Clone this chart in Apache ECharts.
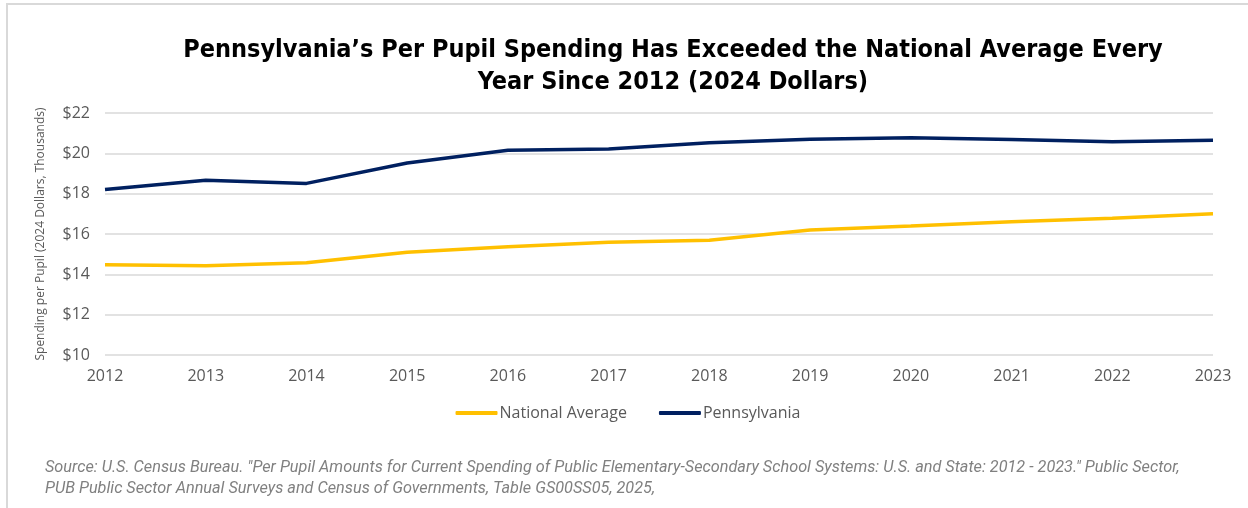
<!DOCTYPE html>
<html>
<head>
<meta charset="utf-8">
<script src="https://cdn.jsdelivr.net/npm/echarts@6/dist/echarts.min.js"></script>
<style>
  html, body { margin: 0; padding: 0; background: #fff; }
  #chart { box-sizing: border-box; border-top: 2px solid #d9d9d9; border-left: 2px solid #d9d9d9; margin-left: 6px; margin-top: 3px; width: 1242px; height: 505px; }
</style>
</head>
<body>
<div id="chart"></div>
<script>
// Per pupil current spending, thousands of 2024 dollars
const years = ['2012','2013','2014','2015','2016','2017','2018','2019','2020','2021','2022','2023'];
const nationalAverage = [14.48, 14.43, 14.58, 15.09, 15.37, 15.59, 15.69, 16.20, 16.40, 16.61, 16.78, 17.01];
const pennsylvania   = [18.21, 18.67, 18.51, 19.52, 20.15, 20.22, 20.52, 20.70, 20.77, 20.68, 20.57, 20.65];
const seriesNames = ['National Average', 'Pennsylvania'];
const seriesColors = ['#FFC000', '#002060'];

const titleText = 'Pennsylvania\u2019s Per Pupil Spending Has Exceeded the National Average Every\nYear Since 2012 (2024 Dollars)';
const sourceText = 'Source: U.S. Census Bureau. "Per Pupil Amounts for Current Spending of Public Elementary-Secondary School Systems: U.S. and State: 2012 - 2023." Public Sector,\nPUB Public Sector Annual Surveys and Census of Governments, Table GS00SS05, 2025,';

const chart = echarts.init(document.getElementById('chart'), null, { renderer: 'canvas' });
chart.setOption({
  animation: false,
  backgroundColor: '#fff',
  title: [{
    text: titleText,
    left: 660, top: 24, textAlign: 'center',
    textStyle: { fontFamily: "'DejaVu Sans Condensed', 'Liberation Sans Narrow', sans-serif", fontWeight: 'bold', fontSize: 25, lineHeight: 32, color: '#000' }
  }, {
    text: sourceText,
    left: 32, top: 447,
    textStyle: { fontFamily: 'Roboto, sans-serif', fontStyle: 'italic', fontWeight: 'normal', fontSize: 16.25, lineHeight: 21, color: '#808080' }
  }],
  legend: {
    data: seriesNames,
    left: 'center', top: 395,
    itemWidth: 42, itemHeight: 4, itemGap: 32,
    icon: 'roundRect',
    textStyle: { fontFamily: "'Open Sans', sans-serif", fontSize: 16, color: '#595959', padding: [0, 0, 0, -3] }
  },
  grid: { left: 97, right: 35, top: 108, bottom: 153 },
  xAxis: {
    type: 'category', data: years, boundaryGap: false,
    axisLine: { show: false }, axisTick: { show: false },
    axisLabel: { fontFamily: "'Open Sans', sans-serif", fontSize: 16, color: '#595959', margin: 13 }
  },
  yAxis: {
    type: 'value', min: 10, max: 22, interval: 2,
    name: 'Spending per Pupil (2024 Dollars, Thousands)',
    nameLocation: 'middle', nameGap: 58, nameRotate: 90,
    nameTextStyle: { fontFamily: "'Open Sans', sans-serif", fontSize: 12, color: '#595959' },
    axisLine: { show: false }, axisTick: { show: false },
    axisLabel: { fontFamily: "'Open Sans', sans-serif", fontSize: 16, color: '#595959', margin: 15, formatter: v => '$' + v },
    splitLine: { lineStyle: { color: '#d9d9d9', width: 1.5 } }
  },
  series: [
    { name: seriesNames[0], type: 'line', data: nationalAverage, color: seriesColors[0], symbol: 'none', lineStyle: { width: 3.5, color: seriesColors[0] } },
    { name: seriesNames[1], type: 'line', data: pennsylvania, color: seriesColors[1], symbol: 'none', lineStyle: { width: 3.5, color: seriesColors[1] } }
  ]
});
</script>
</body>
</html>
